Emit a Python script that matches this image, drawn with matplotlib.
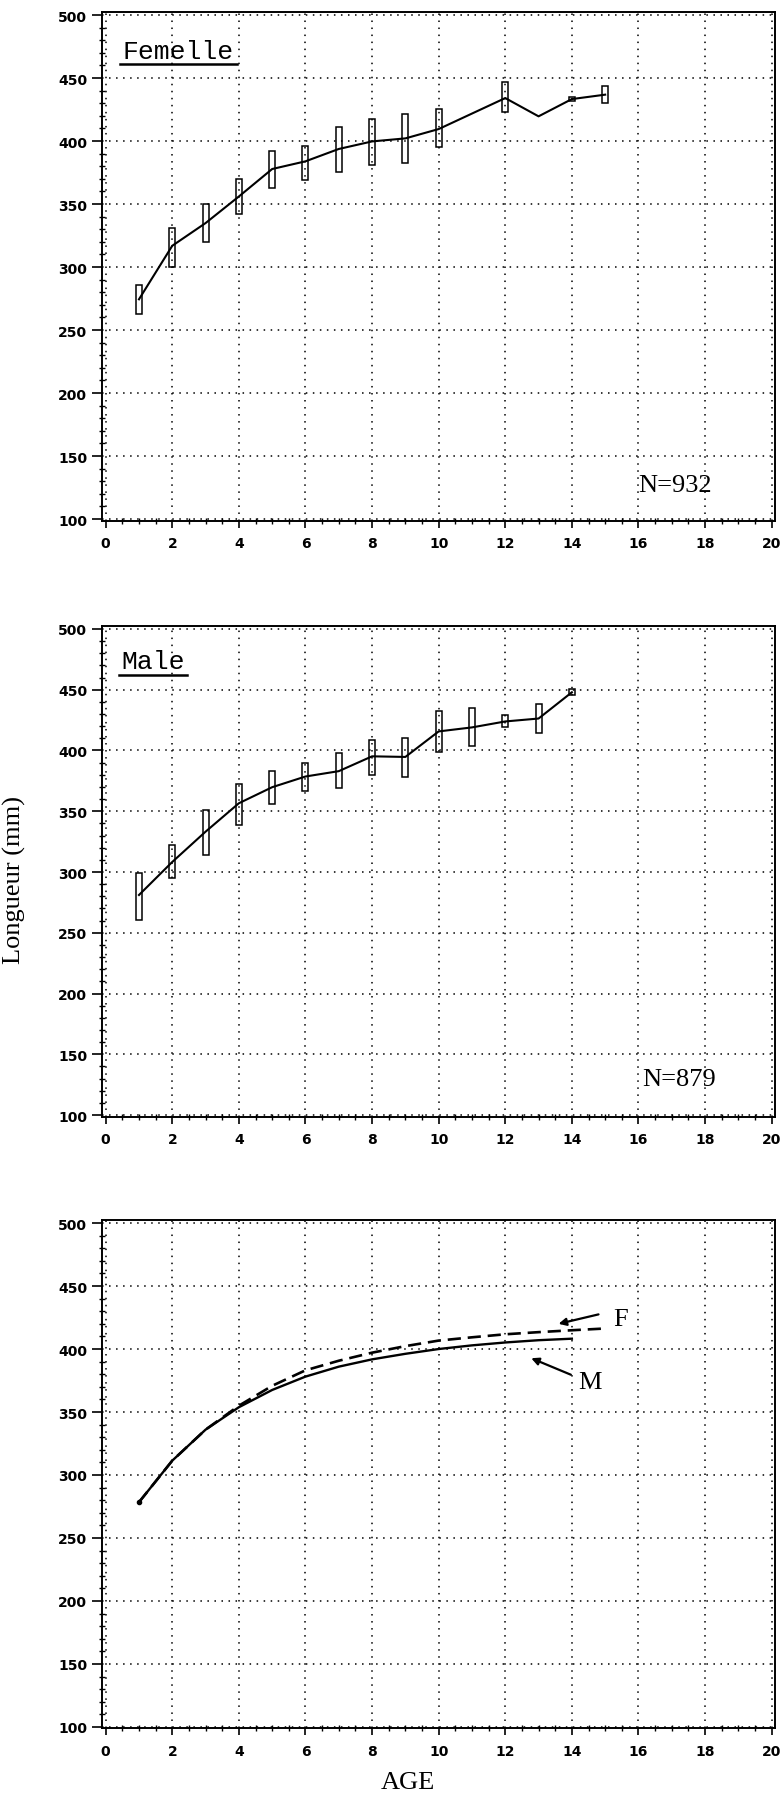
import numpy as np
import matplotlib
matplotlib.use("Agg")
import matplotlib.pyplot as plt
from matplotlib.ticker import MultipleLocator

# --- Length-at-age data (mm) -------------------------------------------
female_age = [1, 2, 3, 4, 5, 6, 7, 8, 9, 10, 12, 13, 14, 15]
female_mean = [274.4, 316.9, 334.9, 356.0, 377.8, 383.9, 393.7, 399.7,
               402.1, 409.5, 434.1, 419.6, 433.3, 436.8]
female_low = [263.1, 299.7, 319.6, 342.0, 362.7, 369.3, 375.1, 381.2,
              382.5, 395.3, 422.8, np.nan, 431.5, 430.2]
female_high = [285.8, 330.7, 350.0, 369.8, 391.8, 396.3, 410.9, 417.5,
               421.4, 425.4, 447.1, np.nan, 435.0, 443.4]

male_age = [1, 2, 3, 4, 5, 6, 7, 8, 9, 10, 11, 12, 13, 14]
male_mean = [281.1, 308.3, 333.2, 356.6, 369.8, 378.6, 383.0, 395.2,
             394.7, 415.7, 419.0, 423.9, 426.3, 447.9]
male_low = [260.9, 295.2, 313.6, 339.1, 355.7, 366.3, 369.0, 379.5,
            378.6, 399.0, 403.4, 419.0, 414.3, 445.9]
male_high = [299.6, 322.1, 350.8, 372.1, 383.0, 389.7, 398.2, 408.7,
             409.9, 432.7, 434.7, 429.2, 438.6, 450.8]

# Fitted growth curves
fit_age_m = [1, 2, 3, 4, 5, 6, 7, 8, 9, 10, 11, 12, 13, 14]
fit_len_m = [278.4, 311.4, 336.0, 353.8, 367.5, 378.1, 386.0, 391.8,
             396.2, 400.0, 402.9, 405.2, 407.0, 408.2]
fit_age_f = [1, 2, 3, 4, 5, 6, 7, 8, 9, 10, 11, 12, 13, 14, 15]
fit_len_f = [278.4, 311.4, 336.0, 355.0, 370.8, 383.1, 390.7, 397.1,
             402.3, 406.7, 409.3, 411.7, 413.4, 414.9, 416.3]

x_ticks = list(range(0, 21, 2))
y_ticks = list(range(100, 501, 50))

plt.rcParams["font.family"] = ["DejaVu Sans"]

fig = plt.figure(figsize=(7.81, 18.06), dpi=100)

left, width = 0.1302, 0.8621
ax1 = fig.add_axes([left, 0.7112, width, 0.2816])
ax2 = fig.add_axes([left, 0.3812, width, 0.2716])
ax3 = fig.add_axes([left, 0.0424, width, 0.2815])

serif = "Liberation Serif"
mono = "Liberation Mono"


def style_axes(ax):
    ax.set_xlim(-0.12, 20.1)
    ax.set_ylim(98.8, 502.4)
    ax.set_xticks(x_ticks)
    ax.set_yticks(y_ticks)
    ax.xaxis.set_minor_locator(MultipleLocator(0.5))
    ax.yaxis.set_minor_locator(MultipleLocator(10))
    ax.set_axisbelow(True)
    ax.grid(True, which="major", color="black",
            linestyle=(0, (1, 3.6)), linewidth=1.1)
    for sp in ax.spines.values():
        sp.set_linewidth(1.4)
        sp.set_color("black")
    ax.tick_params(axis="x", which="major", direction="out", length=5,
                   width=1.2, pad=6)
    ax.tick_params(axis="x", which="minor", direction="inout", length=4,
                   width=1.0)
    ax.tick_params(axis="y", which="major", direction="out", length=7,
                   width=1.2, pad=3.5)
    ax.tick_params(axis="y", which="minor", direction="inout", length=4,
                   width=1.0)
    for lab in ax.get_xticklabels() + ax.get_yticklabels():
        lab.set_fontsize(10)
        lab.set_fontweight("bold")


def draw_boxes(ax, age, mean, low, high):
    age = np.asarray(age, float)
    low = np.asarray(low, float)
    high = np.asarray(high, float)
    ok = ~np.isnan(low)
    ax.bar(age[ok], high[ok] - low[ok], bottom=low[ok], width=0.18,
           fill=False, edgecolor="black", linewidth=1.1, zorder=3)
    ax.plot(age, mean, color="black", linewidth=1.5, zorder=4)


def label_with_underline(ax, text, x, y, x0, x1, yline):
    ax.text(x, y, text, fontsize=19, family=mono, ha="left",
            va="baseline", zorder=5)
    ax.plot([x0, x1], [yline, yline], color="black", linewidth=1.8,
            zorder=5)


# Female panel
style_axes(ax1)
draw_boxes(ax1, female_age, female_mean, female_low, female_high)
label_with_underline(ax1, "Femelle", 0.5, 466, 0.42, 3.95, 461)
ax1.text(16.0, 122.5, "N=932", fontsize=19, family=serif, ha="left",
         va="baseline")

# Male panel
style_axes(ax2)
draw_boxes(ax2, male_age, male_mean, male_low, male_high)
label_with_underline(ax2, "Male", 0.48, 468, 0.41, 2.45, 462.5)
ax2.text(16.1, 125, "N=879", fontsize=19, family=serif, ha="left",
         va="baseline")

# Fitted curves
style_axes(ax3)
ax3.plot(fit_age_m, fit_len_m, color="black", linewidth=1.7, zorder=4)
ax3.plot(fit_age_f, fit_len_f, color="black", linewidth=1.9,
         linestyle=(0, (5, 2.6)), zorder=4)
ax3.plot(fit_age_m[0], fit_len_m[0], "o", color="black", ms=3, zorder=5)
ax3.annotate("", xy=(13.6, 420.0), xytext=(14.8, 427.5),
             arrowprops=dict(arrowstyle="-|>", color="black", lw=1.6,
                             mutation_scale=11, shrinkA=0, shrinkB=0))
ax3.annotate("", xy=(12.78, 392.7), xytext=(13.97, 379.6),
             arrowprops=dict(arrowstyle="-|>", color="black", lw=1.6,
                             mutation_scale=11, shrinkA=0, shrinkB=0))
ax3.text(15.25, 419, "F", fontsize=19, family=serif, ha="left",
         va="baseline")
ax3.text(14.2, 369, "M", fontsize=19, family=serif, ha="left",
         va="baseline")

# Shared axis titles
fig.text(0.0262, 0.5127, "Longueur (mm)", rotation=90, fontsize=19,
         family=serif, ha="center", va="baseline", rotation_mode="anchor")
fig.text(0.522, 0.0125, "AGE", fontsize=19, family=serif, ha="center",
         va="center")

fig.savefig("out.png", dpi=100)
